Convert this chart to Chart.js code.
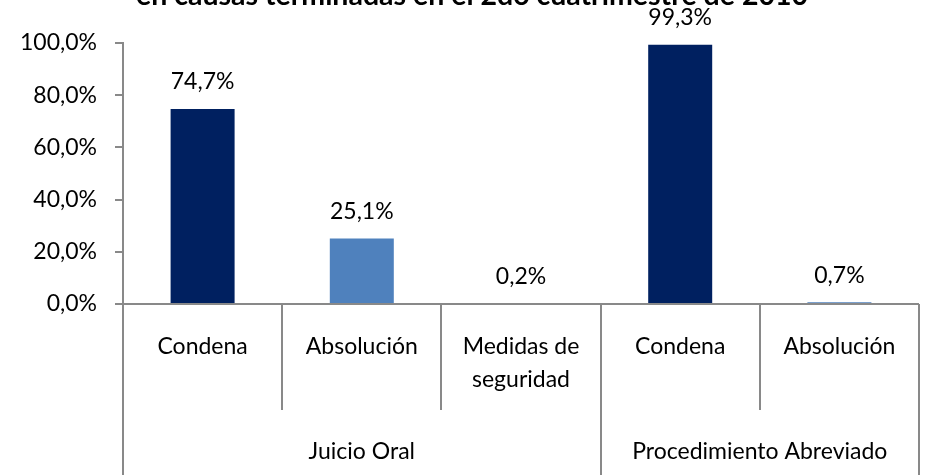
<!DOCTYPE html>
<html>
<head>
<meta charset="utf-8">
<script src="https://cdn.jsdelivr.net/npm/chart.js@4.4.1/dist/chart.umd.min.js"></script>
<style>
  html, body { margin: 0; padding: 0; background: #fff; }
</style>
</head>
<body>
<canvas id="chart" width="930" height="475"></canvas>
<script>
const categories = ['Condena', 'Absolución', ['Medidas de', 'seguridad'], 'Condena', 'Absolución'];
const groups = ['Juicio Oral', 'Procedimiento Abreviado'];
const groupSizes = [3, 2];
const values = [74.7, 25.1, 0.2, 99.3, 0.7];
const barColors = ['#002060', '#4F81BD', '#4F81BD', '#002060', '#4F81BD'];
const titleText = 'en causas terminadas en el 2do cuatrimestre de 2010';

const FONT = 'Lato, "Open Sans", sans-serif';
const lineColor = '#898989';

function pct(v) {
  return v.toFixed(1).replace('.', ',') + '%';
}

// draws the clipped title, value labels and the two-level category axis
const extras = {
  id: 'extras',
  afterDatasetsDraw(chart) {
    const ctx = chart.ctx;
    const meta = chart.getDatasetMeta(0);
    ctx.save();
    ctx.fillStyle = '#000';
    ctx.font = '23px ' + FONT;
    ctx.textAlign = 'center';
    ctx.textBaseline = 'middle';
    meta.data.forEach((bar, i) => {
      ctx.fillText(pct(values[i]), bar.x, bar.y - 27);
    });
    ctx.restore();
  },
  afterDraw(chart) {
    const ctx = chart.ctx;
    const x = chart.scales.x;
    const area = chart.chartArea;
    const n = categories.length;
    const step = (area.right - area.left) / n;
    const bottom = chart.height;

    ctx.save();
    // title, mostly above the top edge
    ctx.fillStyle = '#000';
    ctx.font = 'bold 100px ' + FONT;
    const w = ctx.measureText(titleText).width;
    ctx.font = 'bold ' + (100 * 671 / w).toFixed(1) + 'px ' + FONT;
    ctx.textAlign = 'center';
    ctx.textBaseline = 'alphabetic';
    ctx.fillText(titleText, 472, 5);

    // axis line
    ctx.strokeStyle = lineColor;
    ctx.lineWidth = 2;
    ctx.beginPath();
    ctx.moveTo(area.left - 8, area.bottom);
    ctx.lineTo(area.right, area.bottom);
    ctx.stroke();

    // separators
    let idx = 0;
    const groupEdges = [0];
    groupSizes.forEach(s => { idx += s; groupEdges.push(idx); });
    for (let i = 0; i <= n; i++) {
      const px = Math.round(area.left + i * step);
      const full = groupEdges.includes(i);
      ctx.beginPath();
      ctx.moveTo(px, area.bottom);
      ctx.lineTo(px, full ? bottom : area.bottom + 106);
      ctx.stroke();
    }

    // category labels
    ctx.font = '23px ' + FONT;
    ctx.textBaseline = 'middle';
    categories.forEach((c, i) => {
      const cx = x.getPixelForValue(i);
      const lines = Array.isArray(c) ? c : [c];
      lines.forEach((l, j) => ctx.fillText(l, cx, area.bottom + 43 + j * 33));
    });

    // group labels
    groups.forEach((g, k) => {
      const a = area.left + groupEdges[k] * step;
      const b = area.left + groupEdges[k + 1] * step;
      ctx.fillText(g, (a + b) / 2, area.bottom + 148);
    });
    ctx.restore();
  }
};

new Chart(document.getElementById('chart'), {
  type: 'bar',
  data: {
    labels: categories,
    datasets: [{
      data: values,
      backgroundColor: barColors,
      borderWidth: 0,
      categoryPercentage: 1,
      barPercentage: 0.402
    }]
  },
  options: {
    responsive: false,
    animation: false,
    layout: { padding: { top: 43, right: 11, left: 0, bottom: 0 } },
    plugins: {
      legend: { display: false },
      tooltip: { enabled: false }
    },
    scales: {
      x: {
        ticks: { display: false },
        grid: { display: false },
        border: { display: false },
        afterFit(scale) { scale.height = 171; }
      },
      y: {
        min: 0,
        max: 100,
        ticks: {
          stepSize: 20,
          color: '#000',
          padding: 18,
          font: { family: FONT, size: 23 },
          callback: v => pct(v)
        },
        grid: { drawOnChartArea: false, tickLength: 8, color: lineColor, lineWidth: 2 },
        border: { color: lineColor, width: 2 },
        afterFit(scale) { scale.width = 123; }
      }
    }
  },
  plugins: [extras]
});
</script>
</body>
</html>
